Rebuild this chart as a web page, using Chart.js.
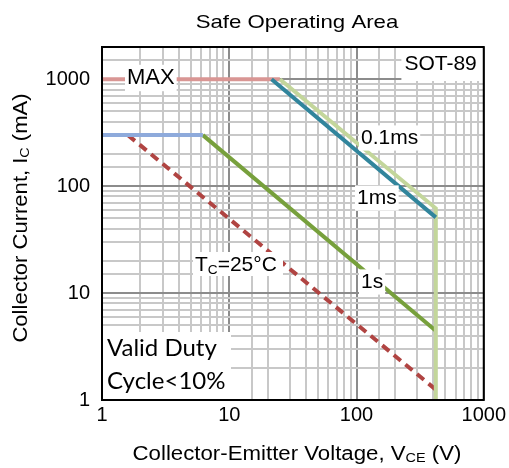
<!DOCTYPE html>
<html>
<head>
<meta charset="utf-8">
<script src="https://cdn.jsdelivr.net/npm/chart.js@4/dist/chart.umd.min.js"></script>
<style>
  html, body { margin: 0; padding: 0; background: #fff; }
  #wrap { width: 509px; height: 468px; }
</style>
</head>
<body>
<div id="wrap"><canvas id="soa"></canvas></div>
<script>
// Curves (V in volts, I in mA)
const maxV = [1, 25];
const maxI = [1000, 1000];
const p01V = [25, 420, 420];
const p01I = [1000, 62, 1];
const p1msV = [21.5, 420];
const p1msI = [1000, 51];
const dcFlatV = [1, 6.2];
const dcFlatI = [300, 300];
const dc1sV = [6.2, 420];
const dc1sI = [300, 4.45];
const tc25V = [1.6, 420];
const tc25I = [300, 1.25];

const xTicks = [1, 10, 100, 1000];
const yTicks = [1, 10, 100, 1000];

const FONT = '"Liberation Sans", Arial, sans-serif';

function pts(xs, ys) {
  return xs.map((x, i) => ({ x: x, y: ys[i] }));
}

function isMajor(v) {
  const l = Math.log10(v);
  return Math.abs(l - Math.round(l)) < 1e-9;
}

// text with a subscript part, stretched a little sideways like the original
function drawSub(ctx, parts, x, y, size, align, stretch) {
  stretch = stretch || 1;
  let w = 0;
  parts.forEach(p => {
    ctx.font = (p[1] ? size * 0.65 : size) + 'px ' + FONT;
    w += ctx.measureText(p[0]).width;
  });
  ctx.save();
  ctx.translate(x, y);
  ctx.scale(stretch, 1);
  let cx = align === 'center' ? -w / 2 : 0;
  ctx.textAlign = 'left';
  ctx.textBaseline = 'alphabetic';
  parts.forEach(p => {
    const s = p[1] ? size * 0.65 : size;
    ctx.font = s + 'px ' + FONT;
    ctx.fillText(p[0], cx, p[1] ? size * 0.12 : 0);
    cx += ctx.measureText(p[0]).width;
  });
  ctx.restore();
}

function boxLabel(ctx, text, x, y, size) {
  ctx.font = size + 'px ' + FONT;
  const w = ctx.measureText(text).width;
  ctx.fillStyle = '#fff';
  ctx.fillRect(x - 2, y - size * 0.6, w + 4, size * 1.2);
  ctx.fillStyle = '#000';
  ctx.textAlign = 'left';
  ctx.textBaseline = 'middle';
  ctx.fillText(text, x, y);
}

const overlay = {
  id: 'overlay',
  afterDatasetsDraw(chart) {
    const ctx = chart.ctx;
    const a = chart.chartArea;
    ctx.save();

    boxLabel(ctx, 'MAX', 127, 78, 22);
    boxLabel(ctx, '0.1ms', 361, 138, 21);
    boxLabel(ctx, '1ms', 357, 198, 21);
    boxLabel(ctx, '1s', 361, 282, 21);

    // SOT-89 box in the upper right corner
    ctx.font = '21px ' + FONT;
    const sw = ctx.measureText('SOT-89').width;
    ctx.fillStyle = '#fff';
    ctx.fillRect(a.right - sw - 10, a.top, sw + 10, 34);
    ctx.fillStyle = '#000';
    ctx.textBaseline = 'middle';
    ctx.textAlign = 'left';
    ctx.fillText('SOT-89', a.right - sw - 7, 64);

    // Tc label
    ctx.fillStyle = '#fff';
    ctx.fillRect(193, 252, 90, 24);
    ctx.fillStyle = '#000';
    drawSub(ctx, [['T', false], ['C', true], ['=25°C', false]], 195, 271, 21, 'left');

    // duty cycle note
    ctx.fillStyle = '#fff';
    ctx.fillRect(a.left + 1, 332, 128, a.bottom - 333);
    ctx.fillStyle = '#000';
    ctx.font = '24px Lato, "Open Sans", sans-serif';
    ctx.textBaseline = 'middle';
    ctx.fillText('Valid Duty', 107, 348);
    ctx.fillText('Cycle<10%', 107, 381);

    // frame
    ctx.strokeStyle = '#000';
    ctx.lineWidth = 2;
    ctx.strokeRect(a.left, a.top, a.right - a.left, a.bottom - a.top);

    // title and axis titles
    ctx.fillStyle = '#000';
    drawSub(ctx, [['Safe Operating Area', false]], 297, 28, 19, 'center', 1.17);

    drawSub(ctx, [['Collector-Emitter Voltage, V', false], ['CE', true], [' (V)', false]], 297, 460, 19.5, 'center', 1.14);

    ctx.translate(27, 218);
    ctx.rotate(-Math.PI / 2);
    drawSub(ctx, [['Collector Current, I', false], ['C', true], [' (mA)', false]], 0, 0, 19.5, 'center', 1.13);

    ctx.restore();
  }
};

const line = (data, color, dash) => ({
  data: data,
  borderColor: color,
  borderWidth: 4,
  borderDash: dash || [],
  pointRadius: 0,
  showLine: true,
  fill: false,
  tension: 0
});

const axisTicks = (list, pad) => ({
  autoSkip: false,
  maxRotation: 0,
  padding: pad,
  color: '#000',
  font: { family: FONT, size: 20 },
  callback: v => list.includes(v) ? String(v) : ''
});

const grid = {
  drawTicks: false,
  color: c => (c.tick && isMajor(c.tick.value)) ? '#8c8c8c' : '#c8c8c8',
  lineWidth: 2
};

new Chart(document.getElementById('soa'), {
  type: 'scatter',
  data: {
    datasets: [
      line(pts(p1msV, p1msI), '#31859c'),
      line(pts(p01V, p01I), '#c3d69b'),
      line(pts(maxV, maxI), '#d99694'),
      line(pts(dcFlatV, dcFlatI), '#8eaadb'),
      line(pts(dc1sV, dc1sI), '#77a03c'),
      line(pts(tc25V, tc25I), '#b04442', [9, 6])
    ]
  },
  options: {
    responsive: true,
    maintainAspectRatio: false,
    animation: false,
    layout: { padding: { top: 47, right: 25, left: 0, bottom: 0 } },
    plugins: { legend: { display: false }, tooltip: { enabled: false } },
    scales: {
      x: {
        type: 'logarithmic',
        min: 1,
        max: 1000,
        grid: grid,
        border: { display: false },
        ticks: axisTicks(xTicks, 3),
        afterFit: s => { s.height = 68; }
      },
      y: {
        type: 'logarithmic',
        min: 1,
        max: 2000,
        grid: grid,
        border: { display: false },
        ticks: axisTicks(yTicks, 12),
        afterFit: s => { s.width = 102; }
      }
    }
  },
  plugins: [overlay]
});
</script>
</body>
</html>
